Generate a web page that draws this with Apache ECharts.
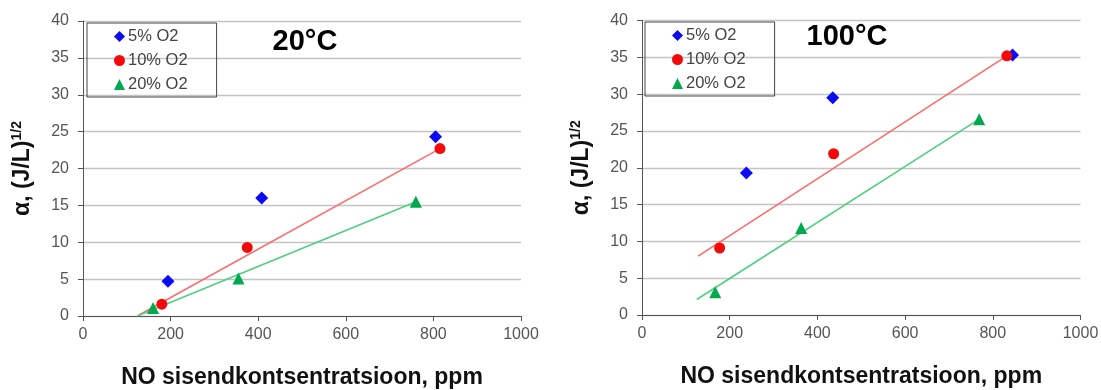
<!DOCTYPE html>
<html>
<head>
<meta charset="utf-8">
<script src="https://cdn.jsdelivr.net/npm/echarts@6/dist/echarts.min.js"></script>
<style>
  html, body { margin: 0; padding: 0; background: #fff; }
  #chart { width: 1101px; height: 390px; }
</style>
</head>
<body>
<div id="chart"></div>
<script>
// legend names and panel titles
const seriesNames = ['5% O2', '10% O2', '20% O2']
const panelTitles = ['20°C', '100°C']
const xTickInterval = 200
const yTickInterval = 5

// 20°C panel: [NO ppm, alpha]
const o2_5_20C = [[194, 4.7], [408, 16.0], [805, 24.3]]
const o2_10_20C = [[180, 1.6], [375, 9.3], [815, 22.7]]
const o2_20_20C = [[160, 1.1], [355, 5.1], [760, 15.5]]
// trend line ends
const trend10_20C = [[127, 0.1], [815, 22.7]]
const trend20_20C = [[124, 0.0], [760, 15.5]]

// 100°C panel
const o2_5_100C = [[238, 19.3], [435, 29.5], [845, 35.3]]
const o2_10_100C = [[177, 9.1], [437, 21.9], [832, 35.2]]
const o2_20_100C = [[167, 3.1], [363, 11.8], [769, 26.6]]
const trend10_100C = [[128, 8.0], [832, 35.2]]
const trend20_100C = [[125, 2.1], [769, 26.6]]

const FONT = '"Liberation Sans", Arial, sans-serif'
const colors = ['#0a0af5', '#f50a0a', '#00a84f']
const lineColors = ['', '#ff6b6b', '#4fcf80']
const symbols = ['diamond', 'circle', 'triangle']
const symbolSizes = [13, 11, 12]

const chart = echarts.init(document.getElementById('chart'))

function makeXAxis(gridIndex) {
  return {
    gridIndex: gridIndex,
    type: 'value',
    min: 0,
    max: 1000,
    interval: xTickInterval,
    axisLine: { show: true, onZero: false, lineStyle: { color: '#555', width: 1 } },
    axisTick: { show: true, length: 5, lineStyle: { color: '#555' } },
    axisLabel: { color: '#555', fontSize: 16, fontFamily: FONT, margin: 11, formatter: (v) => String(v) },
    splitLine: { show: false },
    name: 'NO sisendkontsentratsioon, ppm',
    nameLocation: 'middle',
    nameGap: 50,
    nameTextStyle: { fontSize: 23, fontWeight: 'bold', color: '#111', fontFamily: FONT }
  }
}

function makeYAxis(gridIndex) {
  return {
    gridIndex: gridIndex,
    type: 'value',
    min: 0,
    max: 40,
    interval: yTickInterval,
    axisLine: { show: true, onZero: false, lineStyle: { color: '#555', width: 1 } },
    axisTick: { show: true, length: 5, lineStyle: { color: '#555' } },
    axisLabel: { color: '#555', fontSize: 16, fontFamily: FONT, margin: 14 },
    splitLine: { show: true, lineStyle: { color: '#c4c4c4', width: 1.3 } },
    name: '{a|α, (J/L)}{b|1/2}',
    nameLocation: 'middle',
    nameGap: 47,
    nameRotate: 90,
    nameTextStyle: {
      fontFamily: FONT,
      rich: {
        a: { fontSize: 23, fontWeight: 'bold', color: '#111', fontFamily: FONT, lineHeight: 26 },
        b: { fontSize: 14, fontWeight: 'bold', color: '#111', fontFamily: FONT, verticalAlign: 'top', lineHeight: 26 }
      }
    }
  }
}

function makeLegend(left, top) {
  return {
    left: left,
    top: top,
    orient: 'vertical',
    selectedMode: false,
    padding: [5, 29, 4, 27],
    itemGap: 7,
    itemWidth: 11,
    itemHeight: 11,
    borderColor: '#444',
    borderWidth: 1,
    borderRadius: 0,
    textStyle: { fontSize: 16.5, color: '#444', fontFamily: FONT, padding: [0, 0, 0, -2] },
    data: seriesNames.map((n, i) => ({ name: n, icon: symbols[i] }))
  }
}

function scatter(name, i, idx, data) {
  return {
    name: name,
    type: 'scatter',
    xAxisIndex: idx,
    yAxisIndex: idx,
    symbol: symbols[i],
    symbolSize: symbolSizes[i],
    itemStyle: { color: colors[i], opacity: 1 },
    z: 5,
    data: data
  }
}

function trend(i, idx, data) {
  return {
    type: 'line',
    xAxisIndex: idx,
    yAxisIndex: idx,
    symbol: 'none',
    silent: true,
    lineStyle: { color: lineColors[i], width: 1.6 },
    z: 3,
    data: data
  }
}

const option = {
  animation: false,
  grid: [
    { left: 83, top: 21, width: 438, height: 295, outerBoundsMode: 'none', containLabel: false },
    { left: 642, top: 20.5, width: 438.5, height: 294.5, outerBoundsMode: 'none', containLabel: false }
  ],
  xAxis: [makeXAxis(0), makeXAxis(1)],
  yAxis: [makeYAxis(0), makeYAxis(1)],
  legend: [makeLegend(87, 23), makeLegend(645, 22)],
  graphic: [
    {
      type: 'text', x: 305, y: 42,
      style: { text: panelTitles[0], font: 'bold 29px ' + FONT, fill: '#000', textAlign: 'center', textVerticalAlign: 'middle' }
    },
    {
      type: 'text', x: 847, y: 37,
      style: { text: panelTitles[1], font: 'bold 29px ' + FONT, fill: '#000', textAlign: 'center', textVerticalAlign: 'middle' }
    }
  ],
  series: [
    trend(1, 0, trend10_20C),
    trend(2, 0, trend20_20C),
    scatter(seriesNames[0], 0, 0, o2_5_20C),
    scatter(seriesNames[1], 1, 0, o2_10_20C),
    scatter(seriesNames[2], 2, 0, o2_20_20C),
    trend(1, 1, trend10_100C),
    trend(2, 1, trend20_100C),
    scatter(seriesNames[0], 0, 1, o2_5_100C),
    scatter(seriesNames[1], 1, 1, o2_10_100C),
    scatter(seriesNames[2], 2, 1, o2_20_100C)
  ]
}
chart.setOption(option)
</script>
</body>
</html>
